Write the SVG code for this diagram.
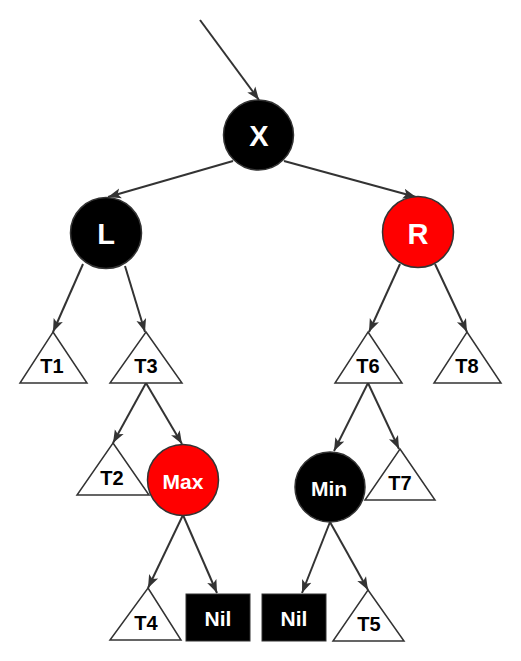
<svg xmlns="http://www.w3.org/2000/svg" width="521" height="661" viewBox="0 0 521 661">
<defs>
<marker id="arr" markerWidth="15" markerHeight="12" refX="13" refY="6" orient="auto" markerUnits="userSpaceOnUse">
<path d="M0,1 L13,6 L0,11 L3,6 Z" fill="#333"/>
</marker>
</defs>
<style>
.e{stroke:#333;stroke-width:2;fill:none;marker-end:url(#arr)}
.b{fill:#000;stroke:#333;stroke-width:1.5}
.r{fill:#ff0000;stroke:#333;stroke-width:1.5}
.t{fill:#fff;stroke:#333;stroke-width:1.5}
.nil{fill:#000;stroke:#333;stroke-width:1}
text{font-family:"Liberation Sans",Arial,sans-serif;font-weight:bold;text-anchor:middle;dominant-baseline:central}
.w{fill:#fff}
.k{fill:#000}
.big{font-size:29px}
.mid{font-size:21px}
.sm{font-size:20px}
</style>
<rect width="521" height="661" fill="#fff"/>
<g id="connectors">
<line class="e" x1="200" y1="20" x2="259" y2="100"/>
<line class="e" x1="233" y1="161" x2="108" y2="197"/>
<line class="e" x1="284" y1="161" x2="416" y2="197"/>
<line class="e" x1="83" y1="264" x2="53" y2="332"/>
<line class="e" x1="125" y1="266" x2="145" y2="332"/>
<line class="e" x1="400" y1="264" x2="369" y2="332"/>
<line class="e" x1="435" y1="264" x2="467" y2="332"/>
<line class="e" x1="146" y1="383" x2="113" y2="443"/>
<line class="e" x1="146" y1="383" x2="182" y2="444"/>
<line class="e" x1="368" y1="383" x2="334" y2="451"/>
<line class="e" x1="368" y1="383" x2="399" y2="449"/>
<line class="e" x1="183" y1="515" x2="148" y2="588"/>
<line class="e" x1="183" y1="515" x2="217" y2="593"/>
<line class="e" x1="330" y1="522" x2="302" y2="593"/>
<line class="e" x1="330" y1="522" x2="368" y2="590"/>
</g>
<g id="X"><circle class="b" cx="258.5" cy="135" r="35"/><text class="w big" x="259" y="136">X</text></g>
<g id="L"><circle class="b" cx="106" cy="233" r="35.5"/><text class="w big" x="106" y="234">L</text></g>
<g id="R"><circle class="r" cx="418" cy="232" r="35.5"/><text class="w big" x="418" y="234">R</text></g>
<g id="T1"><polygon class="t" points="53,332 87,383 20,383"/><text class="k sm" x="52" y="366">T1</text></g>
<g id="T3"><polygon class="t" points="146,332 182,383 110,383"/><text class="k sm" x="146" y="366">T3</text></g>
<g id="T6"><polygon class="t" points="368,332 402,383 335,383"/><text class="k sm" x="368" y="366">T6</text></g>
<g id="T8"><polygon class="t" points="467,332 501,383 434,383"/><text class="k sm" x="467" y="366">T8</text></g>
<g id="T2"><polygon class="t" points="113,443 149,495 77,495"/><text class="k sm" x="112" y="478">T2</text></g>
<g id="Max"><circle class="r" cx="183" cy="480" r="35.5"/><text class="w mid" x="183" y="481">Max</text></g>
<g id="Min"><circle class="b" cx="330" cy="487" r="35"/><text class="w mid" x="329" y="488">Min</text></g>
<g id="T7"><polygon class="t" points="400,449 435,500 365,500"/><text class="k sm" x="400" y="483">T7</text></g>
<g id="T4"><polygon class="t" points="148,588 181,640 110,640"/><text class="k sm" x="146" y="623">T4</text></g>
<g id="Nil1"><rect class="nil" x="186" y="594" width="64" height="47"/><text class="w mid" x="218" y="618">Nil</text></g>
<g id="Nil2"><rect class="nil" x="262" y="594" width="64" height="47"/><text class="w mid" x="294" y="618">Nil</text></g>
<g id="T5"><polygon class="t" points="368,590 404,641 333,641"/><text class="k sm" x="369" y="624">T5</text></g>
</svg>
